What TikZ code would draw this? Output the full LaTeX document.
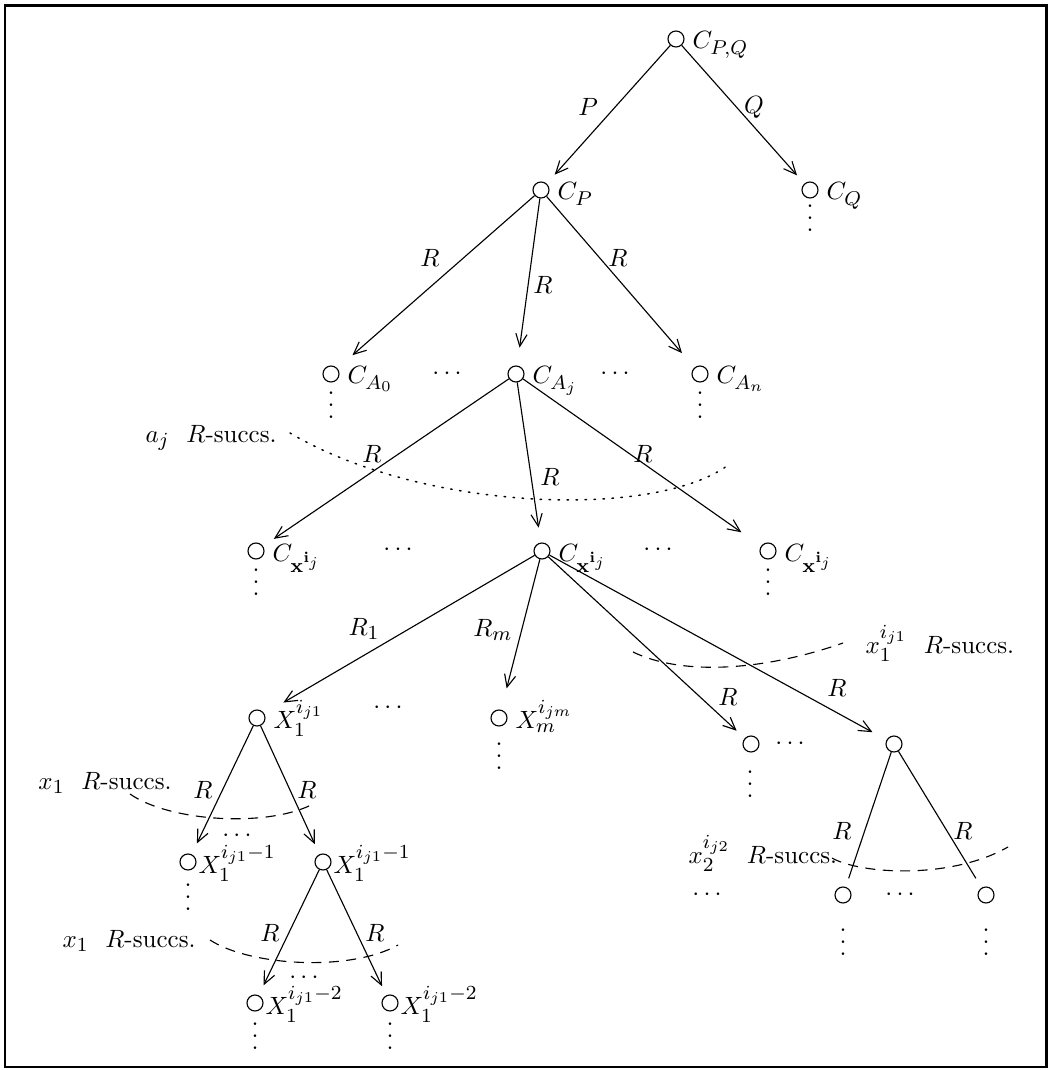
\documentclass[tikz,border=0pt]{standalone}
\DeclareMathSizes{10}{10}{7.6}{5.6}
\usetikzlibrary{arrows.meta}
\newcommand\myvd{\vbox{\baselineskip4.8pt\lineskiplimit0pt\hbox{.}\hbox{.}\hbox{.}}}
\begin{document}
\begin{tikzpicture}[x=0.4pt,y=-0.4pt,
  circ/.style={circle, draw, minimum size=6.4pt, inner sep=0pt, line width=0.45pt},
  lab/.style={anchor=base west, inner sep=0pt},
  txt/.style={inner sep=0pt},
  vd/.style={inner sep=0pt},
  elab/.style={inner sep=0pt},
  arr/.style={-{Straight Barb[length=5pt,width=4.5pt]}, line width=0.45pt},
  plain/.style={line width=0.45pt},
  dsh/.style={dash pattern=on 4pt off 3pt, line width=0.45pt},
  dts/.style={dash pattern=on 0.6pt off 3pt, line width=0.6pt, line cap=round},
  frame/.style={line width=1pt}]
\useasboundingbox (0,0) rectangle (1048,1070);
\draw[frame] (5,5.5) rectangle (1046.5,1067);

% level 0
\node[circ] (pq) at (676,39) {};
\node[lab] (lpq) at (692,49) {$C_{P,Q}$};
% level 1
\node[circ] (cP) at (541,190) {};
\node[lab] (lcP) at (557,200) {$C_P$};
\node[circ] (cQ) at (810,190) {};
\node[lab] (lcQ) at (826,200) {$C_Q$};
\node[vd] (vQ) at (810,218) {\myvd};
\draw[arr, shorten >=4.8pt] (pq) -- (cP);
\draw[arr, shorten >=4.4pt] (pq) -- (cQ);
\node[elab] (eP) at (588,107) {$P$};
\node[elab] (eQ) at (754,107) {$Q$};
% level 2
\node[circ] (cA0) at (331,374) {};
\node[lab] (lcA0) at (347,384) {$C_{A_0}$};
\node[circ] (cAj) at (516,374) {};
\node[lab] (lcAj) at (532,384) {$C_{A_j}$};
\node[circ] (cAn) at (700,374) {};
\node[lab] (lcAn) at (716,384) {$C_{A_n}$};
\node[txt] (dA1) at (447,374) {$\cdots$};
\node[txt] (dA2) at (615,374) {$\cdots$};
\node[vd] (vA0) at (331,405) {\myvd};
\node[vd] (vAn) at (700,405) {\myvd};
\draw[arr, shorten >=8pt] (cP) -- (cA0);
\draw[arr, shorten >=7.2pt] (cP) -- (cAj);
\draw[arr, shorten >=7.6pt] (cP) -- (cAn);
\node[elab] (eA0) at (430,258) {$R$};
\node[elab] (eAj) at (543,285) {$R$};
\node[elab] (eAn) at (618,258) {$R$};
% a_j succs
\node[lab] (taj) at (145,442) {$a_j$\ \ $R$-succs.};
\coordinate (dtS) at (290,433);
\coordinate (dtE) at (727,466);
\draw[dts] (dtS) .. controls (420,510) and (650,520) .. (dtE);
% level 3
\node[circ] (cx0) at (256,551) {};
\node[lab] (lcx0) at (272,561) {$C_{\mathbf{x}^{\mathbf{i}_j}}$};
\node[circ] (cx1) at (542,551) {};
\node[lab] (lcx1) at (558,561) {$C_{\mathbf{x}^{\mathbf{i}_j}}$};
\node[circ] (cx2) at (768,551) {};
\node[lab] (lcx2) at (784,561) {$C_{\mathbf{x}^{\mathbf{i}_j}}$};
\node[txt] (dx1) at (398,550) {$\cdots$};
\node[txt] (dx2) at (658,550) {$\cdots$};
\node[vd] (vx0) at (256,582) {\myvd};
\node[vd] (vx2) at (768,582) {\myvd};
\draw[arr, shorten >=5.2pt] (cAj) -- (cx0);
\draw[arr, shorten >=6pt] (cAj) -- (cx1);
\draw[arr, shorten >=9.6pt] (cAj) -- (cx2);
\node[elab] (ex0) at (372,454) {$R$};
\node[elab] (ex1) at (550,477) {$R$};
\node[elab] (ex2) at (643,454) {$R$};
% level 4
\node[circ] (X1) at (257,718) {};
\node[lab] (lX1) at (273,728) {$X_1^{i_{j1}}$};
\node[circ] (Xm) at (499,718) {};
\node[lab] (lXm) at (515,728) {$X_m^{i_{jm}}$};
\node[txt] (dX) at (388,708) {$\cdots$};
\node[vd] (vXm) at (499,756) {\myvd};
\node[circ] (r1) at (751,744) {};
\node[txt] (dr1) at (790,744) {$\cdots$};
\node[vd] (vr1) at (750,784) {\myvd};
\node[circ] (r2) at (894,744) {};
\draw[arr, shorten >=8.8pt] (cx1) -- (X1);
\draw[arr, shorten >=8.8pt] (cx1) -- (Xm);
\draw[arr, shorten >=4.4pt] (cx1) -- (r1);
\draw[arr, shorten >=6.4pt] (cx1) -- (r2);
\node[elab] (eX1) at (364,629) {$R_1$};
\node[elab] (eXm) at (493,630) {$R_m$};
\node[elab] (er1) at (728,697) {$R$};
\node[elab] (er2) at (837,688) {$R$};
\node[lab] (tx1a) at (865,653) {$x_1^{i_{j1}}$\ \ $R$-succs.};
\coordinate (dsAS) at (633,652);
\coordinate (dsAE) at (843,643);
\draw[dsh] (dsAS) .. controls (680,675) and (760,672) .. (dsAE);
% level 5 left
\node[circ] (a) at (188,862) {};
\node[lab] (la) at (198,873) {$X_1^{i_{j1}-1}$};
\node[circ] (b) at (323,862) {};
\node[lab] (lb) at (333,873) {$X_1^{i_{j1}-1}$};
\node[txt] (dab) at (237,836) {$\cdots$};
\node[vd] (va) at (188,897) {\myvd};
\draw[arr, shorten >=4.8pt] (X1) -- (a);
\draw[arr, shorten >=4.4pt] (X1) -- (b);
\node[elab] (ea) at (203,790) {$R$};
\node[elab] (eb) at (307,790) {$R$};
\node[lab] (tx1b) at (38,789) {$x_1$\ \ $R$-succs.};
\coordinate (dsBS) at (130,794);
\coordinate (dsBE) at (315,803);
\draw[dsh] (dsBS) .. controls (170,822) and (270,828) .. (dsBE);
% level 6 left
\node[circ] (c) at (255,1003) {};
\node[lab] (lc) at (265,1014) {$X_1^{i_{j1}-2}$};
\node[circ] (d) at (390,1003) {};
\node[lab] (ld) at (400,1014) {$X_1^{i_{j1}-2}$};
\node[txt] (dcd) at (304,978) {$\cdots$};
\node[vd] (vc) at (255,1036) {\myvd};
\node[vd] (vd) at (390,1036) {\myvd};
\draw[arr, shorten >=4.4pt] (b) -- (c);
\draw[arr, shorten >=4pt] (b) -- (d);
\node[elab] (ec) at (270,933) {$R$};
\node[elab] (ed) at (375,933) {$R$};
\node[lab] (tx1c) at (62,947) {$x_1$\ \ $R$-succs.};
\coordinate (dsCS) at (210,940);
\coordinate (dsCE) at (398,945);
\draw[dsh] (dsCS) .. controls (250,966) and (350,972) .. (dsCE);
% right subtree
\node[circ] (e) at (843,895) {};
\node[circ] (f) at (986,895) {};
\node[txt] (def) at (900,895) {$\cdots$};
\node[txt] (dl) at (707,895) {$\cdots$};
\node[vd] (ve) at (843,942) {\myvd};
\node[vd] (vf) at (986,942) {\myvd};
\draw[plain, shorten >=3.6pt] (r2) -- (e);
\draw[plain, shorten >=4.4pt] (r2) -- (f);
\node[elab] (ee) at (842,831) {$R$};
\node[elab] (ef) at (963,831) {$R$};
\node[lab] (tx2) at (688,863) {$x_2^{i_{j2}}$\ \ $R$-succs.};
\coordinate (dsDS) at (832,858);
\coordinate (dsDE) at (1008,847);
\draw[dsh] (dsDS) .. controls (860,874) and (950,880) .. (dsDE);
\end{tikzpicture}
\end{document}
